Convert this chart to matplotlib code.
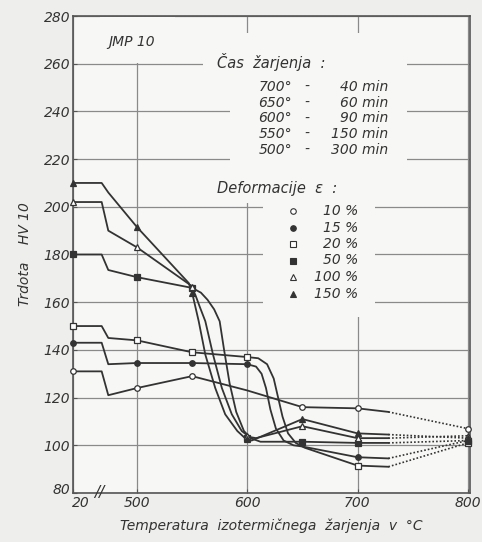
import matplotlib
matplotlib.use('Agg')
import matplotlib.pyplot as plt
import matplotlib.transforms as mtransforms
from matplotlib.patches import Rectangle
import numpy as np

# x position used for the cold-worked state (20 °C) on the broken axis
X20 = 442

# curve traces (x in axis position, HV 10)
x10 = [442, 468, 474, 500, 550, 600, 650, 700, 728, 800]
y10 = [131, 131, 121, 124, 129, 123, 116, 115.5, 114, 107]
x15 = [442, 468, 474, 500, 550, 600, 608, 613, 617, 621, 626, 633, 642, 650, 700, 728, 800]
y15 = [143, 143, 134, 134.5, 134.5, 134, 133, 130, 124, 115, 107, 102, 100, 99.5, 95, 94.5, 102]
x20 = [442, 468, 474, 500, 550, 600, 610, 618, 624, 628, 632, 637, 644, 652, 700, 728, 800]
y20 = [150, 150, 145, 144, 139, 137, 136.5, 134, 128, 120, 112, 105, 101, 99, 91.5, 91, 101]
x50 = [442, 468, 474, 500, 550, 558, 564, 570, 575, 579, 584, 590, 597, 603, 612, 650, 700, 728, 800]
y50 = [180, 180, 173.5, 170.5, 166, 164, 161, 157, 152, 140, 126, 114, 106, 103, 101.5, 101.5, 101, 101, 102]
x100 = [442, 468, 474, 500, 549, 553, 557, 562, 569, 577, 586, 595, 602, 608, 650, 700, 728, 800]
y100 = [202, 202, 190, 183, 167, 163, 158, 152, 138, 124, 113, 106, 103.5, 103, 108, 103, 103, 104]
x150 = [442, 468, 474, 500, 547, 550, 553, 556, 562, 571, 580, 591, 598, 604, 650, 700, 728, 800]
y150 = [210, 210, 206, 191.5, 168, 164, 158, 152, 138, 124, 113, 106, 103, 102, 111, 105, 104.5, 103]

# measured points (markers)
mx10 = [442, 500, 550, 650, 700, 800]
my10 = [131, 124, 129, 116, 115.5, 107]
mx15 = [442, 500, 550, 600, 700, 800]
my15 = [143, 134.5, 134.5, 134, 95, 102]
mx20 = [442, 500, 550, 600, 700, 800]
my20 = [150, 144, 139, 137, 91.5, 101]
mx50 = [442, 500, 550, 600, 650, 700, 800]
my50 = [180, 170.5, 166, 103, 101.5, 101, 102]
mx100 = [442, 500, 550, 600, 650, 700, 800]
my100 = [202, 183, 166.5, 104, 108, 103, 104]
mx150 = [442, 500, 550, 600, 650, 700, 800]
my150 = [210, 191.5, 164, 102.5, 111, 105, 103]

labels = ['10 %', '15 %', '20 %', '50 %', '100 %', '150 %']
times = [('700°', '40 min'), ('650°', '60 min'), ('600°', '90 min'),
         ('550°', '150 min'), ('500°', '300 min')]

xticks = [X20, 500, 600, 700, 800]
xticklabels = ['20', '500', '600', '700', '800']

ink = '#333333'
bg_fig = '#eeeeec'
bg_ax = '#f7f7f5'
plt.rcParams['font.family'] = ['DejaVu Sans']
plt.rcParams['font.style'] = 'italic'

fig = plt.figure(figsize=(4.82, 5.42), dpi=100, facecolor=bg_fig)
ax = fig.add_axes([73 / 482, 49 / 542, 397 / 482, 477 / 542], facecolor=bg_ax)
ax.set_xlim(442, 802)
ax.set_ylim(80, 280)
ax.set_axisbelow(True)
ax.set_xticks(xticks)
ax.set_xticklabels(xticklabels, fontsize=10, color=ink)
ax.set_yticks(np.arange(80, 281, 20))
ax.set_yticklabels([str(v) for v in range(80, 281, 20)], fontsize=10, color=ink)
ax.tick_params(length=3, direction='in', color='#555555', pad=2)
ax.grid(True, color='#8a8a8a', lw=0.9)
for s in ax.spines.values():
    s.set_color('#555555')
    s.set_linewidth(1.2)

# nudge the corner labels apart like in the drawing ("80" up, "20" right)
ax.get_xticklabels()[0].set_transform(ax.get_xticklabels()[0].get_transform() +
                                      mtransforms.ScaledTranslation(0.08, 0, fig.dpi_scale_trans))
ax.get_yticklabels()[0].set_transform(ax.get_yticklabels()[0].get_transform() +
                                      mtransforms.ScaledTranslation(0, 0.04, fig.dpi_scale_trans))


def px(x0, y0, x1, y1):
    # pixel box -> axes fraction rectangle, used to blank grid behind lettering
    return Rectangle(((x0 - 73) / 397, (493 - y1) / 477), (x1 - x0) / 397, (y1 - y0) / 477,
                     transform=ax.transAxes, facecolor=bg_ax, edgecolor='none', zorder=1)


for box in [(230, 33, 407, 170), (203, 55, 373, 70), (240, 33, 256, 203),
            (263, 170, 375, 317), (100, 17, 175, 63)]:
    ax.add_patch(px(*box))

series = [(x10, y10, mx10, my10, 'o', 'white'),
          (x15, y15, mx15, my15, 'o', ink),
          (x20, y20, mx20, my20, 's', 'white'),
          (x50, y50, mx50, my50, 's', ink),
          (x100, y100, mx100, my100, '^', 'white'),
          (x150, y150, mx150, my150, '^', ink)]

for xs, ys, mxs, mys, mk, fc in series:
    k = xs.index(728)
    ax.plot(xs[:k + 1], ys[:k + 1], color=ink, lw=1.3, zorder=2)
    ax.plot(xs[k:], ys[k:], color=ink, lw=1.2, ls=(0, (1, 1.2)), zorder=2)
    ax.plot(mxs, mys, ls='none', marker=mk, ms=4, mfc=fc, mec=ink, mew=0.9, zorder=3,
            clip_on=False)

# axis break mark
ax.text(466, 80, '//', fontsize=11, color=ink, ha='center', va='center', zorder=4)

# annotations
tr = ax.transAxes
def fx(p): return (p - 73) / 397
def fy(p): return (493 - p) / 477

ax.text(fx(108), fy(42), 'JMP 10', transform=tr, fontsize=10, color=ink, va='center')
ax.text(fx(217), fy(62), 'Čas  žarjenja  :', transform=tr, fontsize=10.5, color=ink, va='center')
for i, (t, d) in enumerate(times):
    yy = fy(87 + i * 15.7)
    ax.text(fx(292), yy, t, transform=tr, fontsize=10, color=ink, ha='right', va='center')
    ax.text(fx(307), yy, '-', transform=tr, fontsize=10, color=ink, ha='center', va='center')
    ax.text(fx(388), yy, d, transform=tr, fontsize=10, color=ink, ha='right', va='center')

ax.text(fx(217), fy(188), 'Deformacije  ε  :', transform=tr, fontsize=10.5, color=ink, va='center')
for i, (lab, s) in enumerate(zip(labels, series)):
    yy = fy(211 + i * 16.5)
    ax.plot([fx(293)], [yy], transform=tr, ls='none', marker=s[4], ms=4, mfc=s[5],
            mec=ink, mew=0.8, zorder=3)
    ax.text(fx(358), yy, lab, transform=tr, fontsize=10, color=ink, ha='right', va='center')

ax.set_xlabel('Temperatura  izotermičnega  žarjenja  v  °C', fontsize=10, color=ink, labelpad=6)
ax.set_ylabel('Trdota    HV 10', fontsize=10, color=ink, labelpad=8)

fig.savefig('out.png', dpi=100, facecolor=bg_fig)
